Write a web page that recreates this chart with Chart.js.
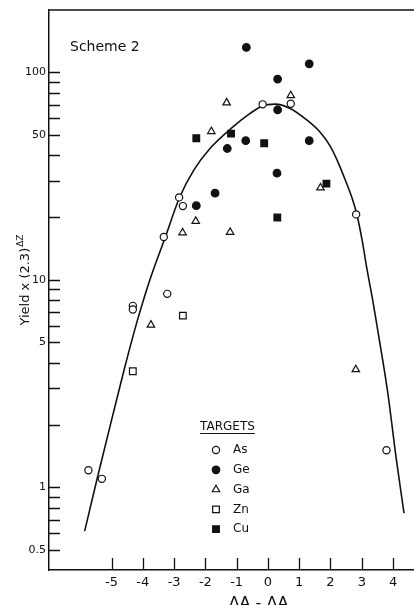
<!DOCTYPE html>
<html>
<head>
<meta charset="utf-8">
<script src="https://cdn.jsdelivr.net/npm/chart.js@4.4.1/dist/chart.umd.min.js"></script>
<style>
  html, body { margin: 0; padding: 0; background: #fff; }
</style>
</head>
<body>
<canvas id="yieldChart" width="414" height="605"></canvas>
<script>
// tick positions
const xTicks = [-5, -4, -3, -2, -1, 0, 1, 2, 3, 4];
const yTicks = [0.5, 0.6, 0.7, 0.8, 0.9, 1, 2, 3, 4, 5, 6, 7, 8, 9, 10, 20, 30, 40, 50, 60, 70, 80, 90, 100];
const yLabelled = [0.5, 1, 5, 10, 50, 100];

// targets: x = ΔA - ΔAz, y = yield x (2.3)^ΔZ
const asX = [-5.74, -5.31, -4.32, -4.32, -3.22, -3.33, -2.84, -2.72, -0.17, 0.73, 2.82, 3.79];
const asY = [1.21, 1.10, 7.5, 7.2, 8.57, 16.1, 25.0, 22.7, 70.2, 70.7, 20.7, 1.51];

const geX = [-0.69, 1.32, 0.31, 0.31, -0.71, 1.32, -1.30, 0.29, -1.69, -2.29];
const geY = [132, 110, 92.9, 66.1, 46.9, 46.9, 43.0, 32.7, 26.2, 22.8];

const gaX = [0.73, -1.32, -1.81, 1.68, -2.31, -2.73, -1.21, -3.74, 2.81];
const gaY = [77.4, 71.5, 52.0, 27.8, 19.2, 16.9, 17.0, 6.07, 3.70];

const znX = [-2.72, -4.32];
const znY = [6.73, 3.63];

const cuX = [-2.29, -1.18, -0.12, 1.87, 0.30];
const cuY = [48.2, 50.7, 45.6, 29.1, 20.0];

// hand-drawn curve, points
const curveX = [-5.86, -5.45, -5.00, -4.60, -4.19, -3.81, -3.28, -2.82, -2.37, -1.84, -1.11, -0.57, -0.16, 0.23, 0.71, 1.25, 1.67, 1.99, 2.24, 2.50, 2.69, 2.84, 3.01, 3.17, 3.35, 3.51, 3.82, 4.11, 4.35];
const curveY = [0.616, 1.12, 2.11, 3.68, 6.26, 9.65, 16.1, 25.1, 33.8, 43.2, 54.8, 63.5, 69.2, 70.4, 67.1, 58.9, 51.5, 44.2, 37.0, 29.6, 24.8, 20.8, 15.6, 11.2, 7.99, 5.73, 2.94, 1.35, 0.752];

const ink = '#111';
const fontFamily = '"DejaVu Sans", sans-serif';

function pairs(xs, ys) {
  return xs.map((x, i) => ({ x: x, y: ys[i] }));
}

// marker look for each target
const targets = [
  { label: 'As', x: asX, y: asY, style: 'circle', radius: 3.6, fill: '#fff' },
  { label: 'Ge', x: geX, y: geY, style: 'circle', radius: 3.8, fill: ink },
  { label: 'Ga', x: gaX, y: gaY, style: 'triangle', radius: 4.3, fill: '#fff' },
  { label: 'Zn', x: znX, y: znY, style: 'rect', radius: 4.7, fill: '#fff' },
  { label: 'Cu', x: cuX, y: cuY, style: 'rect', radius: 4.7, fill: ink }
];

const datasets = targets.map(t => ({
  label: t.label,
  data: pairs(t.x, t.y),
  pointStyle: t.style,
  pointRadius: t.radius,
  pointBackgroundColor: t.fill,
  pointBorderColor: ink,
  pointBorderWidth: 1.2,
  showLine: false
}));

// curve last so it's drawn underneath the markers
datasets.push({
  label: 'curve',
  data: pairs(curveX, curveY),
  showLine: true,
  pointRadius: 0,
  borderColor: ink,
  borderWidth: 1.6,
  cubicInterpolationMode: 'monotone',
  fill: false
});

// frame, inward ticks, titles and the TARGETS key
const paperBits = {
  id: 'paperBits',
  afterDraw(chart) {
    const ctx = chart.ctx;
    const area = chart.chartArea;
    const xs = chart.scales.x;
    const ys = chart.scales.y;
    ctx.save();
    ctx.strokeStyle = ink;
    ctx.fillStyle = ink;

    // top frame line
    ctx.lineWidth = 1.5;
    ctx.beginPath();
    ctx.moveTo(area.left, area.top);
    ctx.lineTo(area.right, area.top);
    ctx.stroke();

    // tick marks pointing into the plot
    ctx.lineWidth = 1.3;
    ctx.beginPath();
    yTicks.forEach(v => {
      const py = Math.round(ys.getPixelForValue(v)) + 0.5;
      ctx.moveTo(area.left, py);
      ctx.lineTo(area.left + 11, py);
    });
    xTicks.forEach(v => {
      const px = Math.round(xs.getPixelForValue(v)) + 0.5;
      ctx.moveTo(px, area.bottom);
      ctx.lineTo(px, area.bottom - 12);
    });
    ctx.stroke();

    // Scheme 2
    ctx.font = '14px ' + fontFamily;
    ctx.textAlign = 'left';
    ctx.textBaseline = 'middle';
    ctx.fillText('Scheme 2', 70, 47);

    // y title with superscript
    ctx.save();
    ctx.translate(29, 280);
    ctx.rotate(-Math.PI / 2);
    ctx.font = '13px ' + fontFamily;
    const main = 'Yield x (2.3)';
    const wMain = ctx.measureText(main).width;
    ctx.font = '9px ' + fontFamily;
    const wSup = ctx.measureText('ΔZ').width;
    const start = -(wMain + wSup + 1) / 2;
    ctx.textBaseline = 'alphabetic';
    ctx.font = '13px ' + fontFamily;
    ctx.fillText(main, start, 0);
    ctx.font = '9px ' + fontFamily;
    ctx.fillText('ΔZ', start + wMain + 1, -6);
    ctx.restore();

    // x title with subscript, mostly below the page edge as in the scan
    ctx.font = '16px ' + fontFamily;
    ctx.textBaseline = 'top';
    const xt = 'ΔA - ΔA';
    const wx = ctx.measureText(xt).width;
    const xStart = 262 - (wx + 7) / 2;
    ctx.fillText(xt, xStart, 596);
    ctx.font = '11px ' + fontFamily;
    ctx.fillText('z', xStart + wx, 603);

    // TARGETS key
    ctx.font = '12px ' + fontFamily;
    ctx.textAlign = 'center';
    ctx.textBaseline = 'middle';
    ctx.fillText('TARGETS', 227.5, 427);
    const wT = ctx.measureText('TARGETS').width;
    ctx.lineWidth = 1.2;
    ctx.beginPath();
    ctx.moveTo(227.5 - wT / 2, 433.5);
    ctx.lineTo(227.5 + wT / 2, 433.5);
    ctx.stroke();

    ctx.textAlign = 'left';
    targets.forEach((t, i) => {
      const rowY = 450 + i * 19.8;
      ctx.fillStyle = t.fill;
      ctx.strokeStyle = ink;
      ctx.lineWidth = 1.2;
      Chart.helpers.drawPoint(ctx, { pointStyle: t.style, radius: t.radius, rotation: 0, borderWidth: 1.2 }, 216, rowY);
      ctx.fillStyle = ink;
      ctx.fillText(t.label, 233, rowY);
    });

    ctx.restore();
  }
};

new Chart(document.getElementById('yieldChart'), {
  type: 'scatter',
  data: { datasets: datasets },
  options: {
    responsive: false,
    devicePixelRatio: 1,
    animation: false,
    layout: { autoPadding: false, padding: { top: 10, right: 0, left: 0, bottom: 0 } },
    plugins: {
      legend: { display: false },
      tooltip: { enabled: false }
    },
    scales: {
      x: {
        type: 'linear',
        min: -7,
        max: 4.67,
        afterBuildTicks: scale => { scale.ticks = xTicks.map(v => ({ value: v })); },
        afterFit: scale => {
          scale.height = 35;
          scale.paddingLeft = 0;
          scale.paddingRight = 0;
        },
        grid: { display: false, drawTicks: false },
        border: { display: true, color: ink, width: 1.5 },
        ticks: {
          autoSkip: false,
          maxRotation: 0,
          padding: 5,
          color: ink,
          font: { family: fontFamily, size: 13 },
          callback: v => String(v)
        }
      },
      y: {
        type: 'logarithmic',
        min: 0.4,
        max: 200,
        afterBuildTicks: scale => { scale.ticks = yTicks.map(v => ({ value: v })); },
        afterFit: scale => {
          scale.width = 49;
          scale.paddingTop = 0;
          scale.paddingBottom = 0;
        },
        grid: { display: false, drawTicks: false },
        border: { display: true, color: ink, width: 1.5 },
        ticks: {
          autoSkip: false,
          padding: 3,
          color: ink,
          font: { family: fontFamily, size: 11 },
          callback: v => (yLabelled.includes(v) ? String(v) : '')
        }
      }
    }
  },
  plugins: [paperBits]
});
</script>
</body>
</html>
